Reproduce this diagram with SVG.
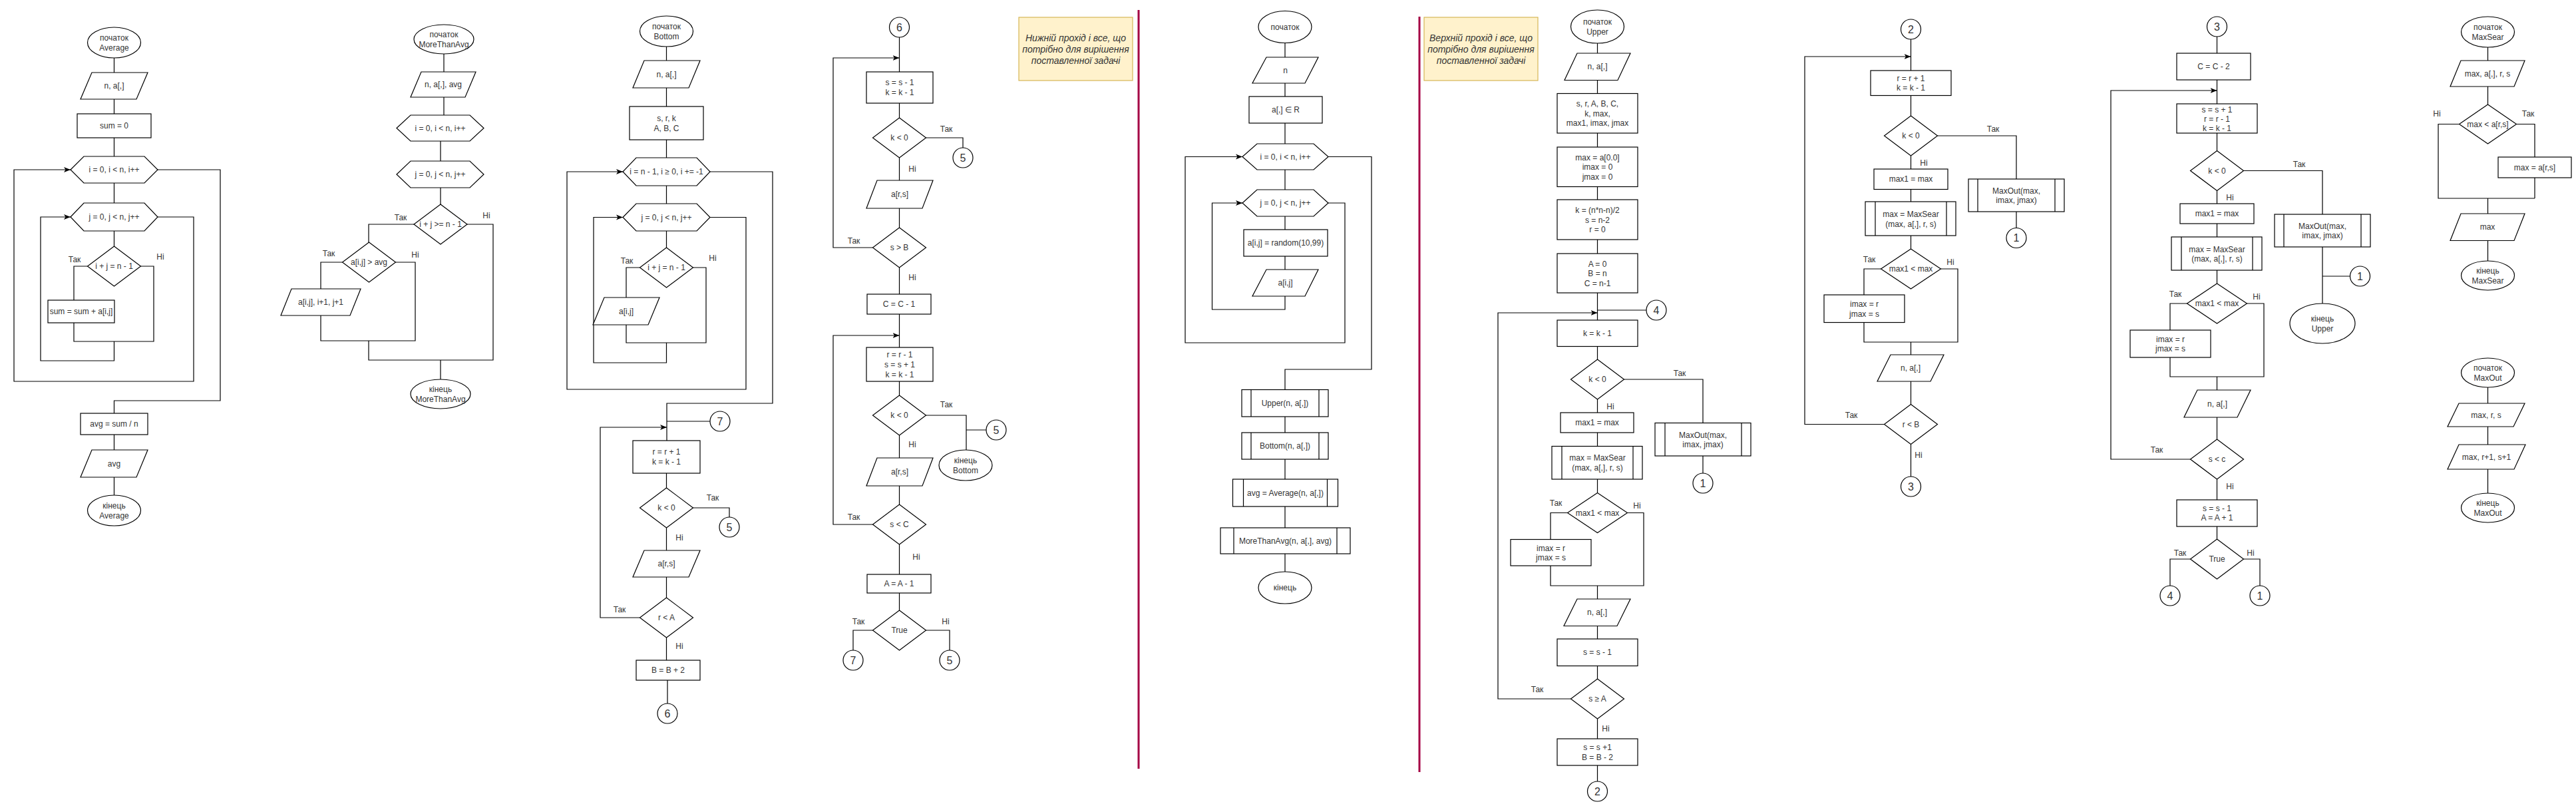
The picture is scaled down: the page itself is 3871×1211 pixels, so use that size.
<svg xmlns="http://www.w3.org/2000/svg" width="3871" height="1211" viewBox="0 0 3871 1211">
<style>
.s{fill:#fff;stroke:#000;stroke-width:1.2}
.c{fill:none;stroke:#000;stroke-width:1.2}
.a{marker-end:url(#ar)}
.t{font-family:"Liberation Sans",Arial,sans-serif;font-size:12px;fill:#333;text-anchor:middle;dominant-baseline:central}
.n{font-size:16px}
.note{fill:#fff2cc;stroke:#d6b656;stroke-width:1.2}
.nt{font-style:italic;font-size:14px}
.red{stroke:#a50044;stroke-width:3}
</style>
<defs>
<marker id="ar" viewBox="0 0 10 10" refX="10" refY="5" markerWidth="10" markerHeight="10" markerUnits="userSpaceOnUse" orient="auto"><path d="M0,1 L10,5 L0,9 L2.5,5 z" fill="#000"/></marker>
</defs>
<rect width="3871" height="1211" fill="#fff"/>

<g id="separators">
<line class="red" x1="1711" y1="15" x2="1711" y2="1155"/>
<line class="red" x1="2133" y1="25" x2="2133" y2="1160"/>
</g>

<g id="connectors">
<!-- Average -->
<path class="c" d="M171.5,87V109M171.5,149V171M171.5,207V235M171.5,275V305M171.5,347V370"/>
<path class="c" d="M131.5,400H111V451"/>
<path class="c" d="M111,485V513H231V400H211.5"/>
<path class="c a" d="M171.5,513V542H61V326H106"/>
<path class="c a" d="M237,326H291V573H21V255H106"/>
<path class="c" d="M237,255H331V602H171.5V621M171.5,653V676M171.5,717V744"/>
<text class="t" x="112" y="390">Так</text><text class="t" x="241" y="386">Ні</text>
<!-- MoreThanAvg -->
<path class="c" d="M667,81V108M667,146V173M662,212V242M662,282V307"/>
<path class="c" d="M622,337H554V364M514.5,394H482V434"/>
<path class="c" d="M482,474V512H624V394H594.5M554,512V541H741V337H702M662,541V570"/>
<text class="t" x="602" y="327">Так</text><text class="t" x="731" y="324">Ні</text>
<text class="t" x="494" y="381">Так</text><text class="t" x="624" y="383">Ні</text>
<!-- Bottom -->
<path class="c" d="M1001.5,70V91M1001.5,132V160M1001.5,210V237M1001.5,279V306M1001.5,347V372"/>
<path class="c" d="M961.5,402H941V447M941,488V515H1061V402H1041.5"/>
<path class="c a" d="M1001.5,515V545H892V326.5H936"/>
<path class="c a" d="M1067,326.5H1121V585H852V258H936"/>
<path class="c" d="M1067,258H1161V606H1002V662M1002,633H1067"/>
<path class="c a" d="M961.5,928H902V642H1002"/>
<path class="c" d="M1001.5,711V733M1041.5,763H1096V777M1001.5,793V827M1001.5,867V898M1001.5,958V992M1003,1022V1057"/>
<text class="t" x="942" y="392">Так</text><text class="t" x="1071" y="388">Ні</text>
<text class="t" x="1071" y="748">Так</text><text class="t" x="1021" y="808">Ні</text>
<text class="t" x="931" y="916">Так</text><text class="t" x="1021" y="971">Ні</text>
<!-- Bottom continued -->
<path class="c" d="M1351.5,56V108M1351.5,155V177M1391.5,207H1447V222M1351.5,237V271M1351.5,313V342M1351.5,402V442M1351.5,472V522M1351.5,573V594"/>
<path class="c a" d="M1311.5,372H1252V87H1351.5"/>
<path class="c a" d="M1311.5,788H1252V504H1351.5"/>
<path class="c" d="M1391.5,624H1452V676M1452,646H1482M1351.5,654V688M1351.5,730V758M1351.5,818V863M1351.5,891V917"/>
<path class="c" d="M1311.5,947H1282V977M1391.5,947H1427V977"/>
<text class="t" x="1422" y="194">Так</text><text class="t" x="1371" y="254">Ні</text>
<text class="t" x="1283" y="362">Так</text><text class="t" x="1371" y="417">Ні</text>
<text class="t" x="1422" y="608">Так</text><text class="t" x="1371" y="668">Ні</text>
<text class="t" x="1283" y="777">Так</text><text class="t" x="1377" y="837">Ні</text>
<text class="t" x="1290" y="934">Так</text><text class="t" x="1421" y="934">Ні</text>
<!-- Main -->
<path class="c" d="M1931,64.5V86M1931,125V145M1931,185V216M1931,255V285M1931,325V345M1931,385V405"/>
<path class="c a" d="M1931,445V465H1821.5V305H1867"/>
<path class="c a" d="M1996,305H2021V515H1781V235.5H1867"/>
<path class="c" d="M1996,235.5H2061V555H1931V585.5M1931,626V650M1931,690V720M1931,761V793M1931,832V859"/>
<!-- Upper -->
<path class="c" d="M2400.5,65V80M2400.5,120.5V140.5M2400.5,200V221M2400.5,280.5V300M2400.5,360V381M2400.5,440V481M2400.5,466H2474"/>
<path class="c a" d="M2360.5,1050H2251V470H2400.5"/>
<path class="c" d="M2400.5,520.5V540M2440.5,570H2559V635.5M2559,685V711M2400.5,600V620M2400.5,650V670.5M2400.5,720V740.5"/>
<path class="c" d="M2355.5,770.5H2330V810.5M2330,850V880H2470V770.5H2445.5M2400.5,880V900M2400.5,940.5V960M2400.5,1000.5V1020M2400.5,1080V1110M2400.5,1150V1174"/>
<text class="t" x="2524" y="561">Так</text><text class="t" x="2420" y="611">Ні</text>
<text class="t" x="2338" y="756">Так</text><text class="t" x="2460" y="760">Ні</text>
<text class="t" x="2310" y="1036">Так</text><text class="t" x="2413" y="1095">Ні</text>
<!-- Column 2 -->
<path class="c" d="M2871.5,59V106M2871.5,143.5V174M2911.5,204H3030V269M3030,318V342M2871.5,234V254M2871.5,284.5V303M2871.5,354V374"/>
<path class="c a" d="M2831.5,637.5H2712V85H2871.5"/>
<path class="c" d="M2826.5,404H2801V443M2801,484.5V514H2942V404H2916.5M2871.5,514V533M2871.5,573V607.5M2871.5,667.5V716"/>
<text class="t" x="2995" y="194">Так</text><text class="t" x="2891" y="245">Ні</text>
<text class="t" x="2809" y="390">Так</text><text class="t" x="2931" y="394">Ні</text>
<text class="t" x="2782" y="624">Так</text><text class="t" x="2883" y="684">Ні</text>
<!-- Column 3 -->
<path class="c" d="M3331.5,55V80M3331.5,120V156M3331.5,200V226.5M3371.5,256.5H3490V322M3490,371V456M3490,415H3531.5M3331.5,286.5V306M3331.5,336V356M3331.5,406V426"/>
<path class="c a" d="M3291.5,690H3172V136H3331.5"/>
<path class="c" d="M3286.5,456H3261V496M3261,537V566H3402V456H3376.5M3331.5,566V586M3331.5,627V660M3331.5,720V751M3331.5,791V810"/>
<path class="c" d="M3291.5,840H3261V880M3371.5,840H3396V880"/>
<text class="t" x="3455" y="247">Так</text><text class="t" x="3351" y="297">Ні</text>
<text class="t" x="3269" y="442">Так</text><text class="t" x="3391" y="446">Ні</text>
<text class="t" x="3241" y="676">Так</text><text class="t" x="3351" y="731">Ні</text>
<text class="t" x="3276" y="831">Так</text><text class="t" x="3382" y="831">Ні</text>
<!-- MaxSear -->
<path class="c" d="M3738.5,71V91M3738.5,130V157M3695.5,186.5H3664V298H3809M3781.5,186.5H3809V236M3809,267V298M3738.5,298V321M3738.5,361.5V392"/>
<text class="t" x="3662" y="171">Ні</text><text class="t" x="3799" y="171">Так</text>
<!-- MaxOut -->
<path class="c" d="M3738.5,582V606M3738.5,641V668M3738.5,705V741"/>
</g>

<!-- ===== Average ===== -->
<g id="avg-start"><ellipse class="s" cx="171.5" cy="64" rx="40" ry="23"/><text class="t" x="171.5" y="57">початок</text><text class="t" x="171.5" y="72">Average</text></g>
<g id="avg-in"><polygon class="s" points="138,109 222,109 205,149 121,149"/><text class="t" x="171.5" y="129">n, a[,]</text></g>
<g id="avg-sum0"><rect class="s" x="116" y="171" width="111" height="36"/><text class="t" x="171.5" y="189">sum = 0</text></g>
<g id="avg-loopi"><polygon class="s" points="106,255 126,235 217,235 237,255 217,275 126,275"/><text class="t" x="171.5" y="255">i = 0, i &lt; n, i++</text></g>
<g id="avg-loopj"><polygon class="s" points="106,326 126,305 217,305 237,326 217,347 126,347"/><text class="t" x="171.5" y="326">j = 0, j &lt; n, j++</text></g>
<g id="avg-cond"><polygon class="s" points="171.5,370 211.5,400 171.5,430 131.5,400"/><text class="t" x="171.5" y="400">i + j = n - 1</text></g>
<g id="avg-add"><rect class="s" x="72" y="451" width="100" height="34"/><text class="t" x="122" y="468">sum = sum + a[i,j]</text></g>
<g id="avg-div"><rect class="s" x="121" y="621" width="101" height="32"/><text class="t" x="171.5" y="637">avg = sum / n</text></g>
<g id="avg-out"><polygon class="s" points="138,676 222,676 205,717 121,717"/><text class="t" x="171.5" y="696.5">avg</text></g>
<g id="avg-end"><ellipse class="s" cx="171.5" cy="767" rx="40" ry="23"/><text class="t" x="171.5" y="760">кінець</text><text class="t" x="171.5" y="775">Average</text></g>

<!-- ===== MoreThanAvg ===== -->
<g id="mta-start"><ellipse class="s" cx="667" cy="59" rx="45" ry="22"/><text class="t" x="667" y="52">початок</text><text class="t" x="667" y="67">MoreThanAvg</text></g>
<g id="mta-in"><polygon class="s" points="633,108 715,108 699,146 617,146"/><text class="t" x="666" y="127">n, a[,], avg</text></g>
<g id="mta-loopi"><polygon class="s" points="596,192.5 617,173 706,173 727,192.5 706,212 617,212"/><text class="t" x="661.5" y="192.5">i = 0, i &lt; n, i++</text></g>
<g id="mta-loopj"><polygon class="s" points="596,262 617,242 706,242 727,262 706,282 617,282"/><text class="t" x="661.5" y="262">j = 0, j &lt; n, j++</text></g>
<g id="mta-cond1"><polygon class="s" points="662,307 702,337 662,367 622,337"/><text class="t" x="662" y="337">i + j &gt;= n - 1</text></g>
<g id="mta-cond2"><polygon class="s" points="554.5,364 594.5,394 554.5,424 514.5,394"/><text class="t" x="554.5" y="394">a[i,j] &gt; avg</text></g>
<g id="mta-out"><polygon class="s" points="438,434 542,434 526,474 422,474"/><text class="t" x="482" y="454">a[i,j], i+1, j+1</text></g>
<g id="mta-end"><ellipse class="s" cx="662" cy="592" rx="45" ry="22"/><text class="t" x="662" y="585">кінець</text><text class="t" x="662" y="600">MoreThanAvg</text></g>

<!-- ===== Bottom ===== -->
<g id="bot-start"><ellipse class="s" cx="1001.5" cy="47" rx="40" ry="23"/><text class="t" x="1001.5" y="40">початок</text><text class="t" x="1001.5" y="55">Bottom</text></g>
<g id="bot-in"><polygon class="s" points="968,91 1052,91 1035,132 951,132"/><text class="t" x="1001.5" y="111.5">n, a[,]</text></g>
<g id="bot-vars"><rect class="s" x="946" y="160" width="111" height="50"/><text class="t" x="1001.5" y="177.5">s, r, k</text><text class="t" x="1001.5" y="192.5">A, B, C</text></g>
<g id="bot-loopi"><polygon class="s" points="936,258 956,237 1047,237 1067,258 1047,279 956,279"/><text class="t" x="1001.5" y="258">i = n - 1, i ≥ 0, i += -1</text></g>
<g id="bot-loopj"><polygon class="s" points="936,326.5 956,306 1047,306 1067,326.5 1047,347 956,347"/><text class="t" x="1001.5" y="326.5">j = 0, j &lt; n, j++</text></g>
<g id="bot-cond"><polygon class="s" points="1001.5,372 1041.5,402 1001.5,432 961.5,402"/><text class="t" x="1001.5" y="402">i + j = n - 1</text></g>
<g id="bot-out1"><polygon class="s" points="908,447 991,447 974,488 891,488"/><text class="t" x="941" y="467.5">a[i,j]</text></g>
<g id="bot-c7a"><circle class="s" cx="1082" cy="633" r="15"/><text class="t n" x="1082" y="633">7</text></g>
<g id="bot-rk"><rect class="s" x="951" y="662" width="101" height="49"/><text class="t" x="1001.5" y="679">r = r + 1</text><text class="t" x="1001.5" y="694">k = k - 1</text></g>
<g id="bot-k0a"><polygon class="s" points="1001.5,733 1041.5,763 1001.5,793 961.5,763"/><text class="t" x="1001.5" y="763">k &lt; 0</text></g>
<g id="bot-c5a"><circle class="s" cx="1096" cy="792" r="15"/><text class="t n" x="1096" y="792">5</text></g>
<g id="bot-out2"><polygon class="s" points="968,827 1052,827 1035,867 951,867"/><text class="t" x="1001.5" y="847">a[r,s]</text></g>
<g id="bot-rA"><polygon class="s" points="1001.5,898 1041.5,928 1001.5,958 961.5,928"/><text class="t" x="1001.5" y="928">r &lt; A</text></g>
<g id="bot-B"><rect class="s" x="956" y="992" width="96" height="30"/><text class="t" x="1004" y="1007">B = B + 2</text></g>
<g id="bot-c6a"><circle class="s" cx="1003" cy="1072" r="15"/><text class="t n" x="1003" y="1072">6</text></g>

<!-- ===== Bottom continued ===== -->
<g id="bc-c6"><circle class="s" cx="1351.5" cy="41" r="15"/><text class="t n" x="1351.5" y="41">6</text></g>
<g id="bc-sk"><rect class="s" x="1302" y="108" width="100" height="47"/><text class="t" x="1352" y="124">s = s - 1</text><text class="t" x="1352" y="139">k = k - 1</text></g>
<g id="bc-k0a"><polygon class="s" points="1351.5,177 1391.5,207 1351.5,237 1311.5,207"/><text class="t" x="1351.5" y="207">k &lt; 0</text></g>
<g id="bc-c5a"><circle class="s" cx="1447" cy="237" r="15"/><text class="t n" x="1447" y="237">5</text></g>
<g id="bc-out1"><polygon class="s" points="1318,271 1402,271 1386,313 1302,313"/><text class="t" x="1352" y="292">a[r,s]</text></g>
<g id="bc-sB"><polygon class="s" points="1351.5,342 1391.5,372 1351.5,402 1311.5,372"/><text class="t" x="1351.5" y="372">s &gt; B</text></g>
<g id="bc-C"><rect class="s" x="1303" y="442" width="96" height="30"/><text class="t" x="1351" y="457">C = C - 1</text></g>
<g id="bc-rsk"><rect class="s" x="1302" y="522" width="100" height="51"/><text class="t" x="1352" y="532.5">r = r - 1</text><text class="t" x="1352" y="547.5">s = s + 1</text><text class="t" x="1352" y="562.5">k = k - 1</text></g>
<g id="bc-k0b"><polygon class="s" points="1351.5,594 1391.5,624 1351.5,654 1311.5,624"/><text class="t" x="1351.5" y="624">k &lt; 0</text></g>
<g id="bc-c5b"><circle class="s" cx="1497" cy="646" r="15"/><text class="t n" x="1497" y="646">5</text></g>
<g id="bc-end"><ellipse class="s" cx="1451" cy="699" rx="40" ry="23"/><text class="t" x="1451" y="692">кінець</text><text class="t" x="1451" y="707">Bottom</text></g>
<g id="bc-out2"><polygon class="s" points="1318,688 1402,688 1386,730 1302,730"/><text class="t" x="1352" y="709">a[r,s]</text></g>
<g id="bc-sC"><polygon class="s" points="1351.5,758 1391.5,788 1351.5,818 1311.5,788"/><text class="t" x="1351.5" y="788">s &lt; C</text></g>
<g id="bc-A"><rect class="s" x="1303" y="863" width="96" height="28"/><text class="t" x="1351" y="877">A = A - 1</text></g>
<g id="bc-true"><polygon class="s" points="1351.5,917 1391.5,947 1351.5,977 1311.5,947"/><text class="t" x="1351.5" y="947">True</text></g>
<g id="bc-c7"><circle class="s" cx="1282" cy="992" r="15"/><text class="t n" x="1282" y="992">7</text></g>
<g id="bc-c5c"><circle class="s" cx="1427" cy="992" r="15"/><text class="t n" x="1427" y="992">5</text></g>

<!-- ===== Notes ===== -->
<g id="note1"><rect class="note" x="1531" y="26" width="171" height="95"/><text class="t nt" x="1616.5" y="57">Нижній прохід і все, що</text><text class="t nt" x="1616.5" y="74">потрібно для вирішення</text><text class="t nt" x="1616.5" y="91">поставленної задачі</text></g>
<g id="note2"><rect class="note" x="2140" y="26" width="171" height="95"/><text class="t nt" x="2225.5" y="57">Верхній прохід і все, що</text><text class="t nt" x="2225.5" y="74">потрібно для вирішення</text><text class="t nt" x="2225.5" y="91">поставленної задачі</text></g>

<!-- ===== Main ===== -->
<g id="main-start"><ellipse class="s" cx="1931" cy="40.5" rx="40" ry="24"/><text class="t" x="1931" y="40.5">початок</text></g>
<g id="main-n"><polygon class="s" points="1903,86 1981,86 1961,125 1882,125"/><text class="t" x="1931.5" y="105.5">n</text></g>
<g id="main-aR"><rect class="s" x="1877" y="145" width="110" height="40"/><text class="t" x="1932" y="165">a[,] ∈ R</text></g>
<g id="main-loopi"><polygon class="s" points="1867,235.5 1889,216 1974,216 1996,235.5 1974,255 1889,255"/><text class="t" x="1931.5" y="235.5">i = 0, i &lt; n, i++</text></g>
<g id="main-loopj"><polygon class="s" points="1867,305 1889,285 1974,285 1996,305 1974,325 1889,325"/><text class="t" x="1931.5" y="305">j = 0, j &lt; n, j++</text></g>
<g id="main-rand"><rect class="s" x="1869" y="345" width="126" height="40"/><text class="t" x="1932" y="365">a[i,j] = random(10,99)</text></g>
<g id="main-out"><polygon class="s" points="1903,405 1981,405 1961,445 1882,445"/><text class="t" x="1931.5" y="425">a[i,j]</text></g>
<g id="main-upper"><rect class="s" x="1866" y="585.5" width="130" height="40.5"/><path class="c" d="M1880,585.5V626M1982,585.5V626"/><text class="t" x="1931" y="606">Upper(n, a[,])</text></g>
<g id="main-bottom"><rect class="s" x="1866" y="650" width="130" height="40"/><path class="c" d="M1880,650V690M1982,650V690"/><text class="t" x="1931" y="670">Bottom(n, a[,])</text></g>
<g id="main-average"><rect class="s" x="1852.5" y="720" width="158" height="41"/><path class="c" d="M1868.5,720V761M1994.5,720V761"/><text class="t" x="1931.5" y="740.5">avg = Average(n, a[,])</text></g>
<g id="main-mta"><rect class="s" x="1834" y="793" width="195" height="39"/><path class="c" d="M1854,793V832M2009,793V832"/><text class="t" x="1931.5" y="812.5">MoreThanAvg(n, a[,], avg)</text></g>
<g id="main-end"><ellipse class="s" cx="1931" cy="883" rx="40" ry="24"/><text class="t" x="1931" y="883">кінець</text></g>

<!-- ===== Upper ===== -->
<g id="up-start"><ellipse class="s" cx="2400.5" cy="40" rx="40" ry="25"/><text class="t" x="2400.5" y="33">початок</text><text class="t" x="2400.5" y="48">Upper</text></g>
<g id="up-in"><polygon class="s" points="2370,80 2450,80 2431,120.5 2351,120.5"/><text class="t" x="2400.5" y="100">n, a[,]</text></g>
<g id="up-vars"><rect class="s" x="2340" y="140.5" width="121" height="59.5"/><text class="t" x="2400.5" y="156">s, r, A, B, C,</text><text class="t" x="2400.5" y="170.5">k, max,</text><text class="t" x="2400.5" y="185">max1, imax, jmax</text></g>
<g id="up-max"><rect class="s" x="2340" y="221" width="121" height="59.5"/><text class="t" x="2400.5" y="236.5">max = a[0.0]</text><text class="t" x="2400.5" y="251">imax = 0</text><text class="t" x="2400.5" y="265.5">jmax = 0</text></g>
<g id="up-k"><rect class="s" x="2340" y="300" width="121" height="60"/><text class="t" x="2400.5" y="316">k = (n*n-n)/2</text><text class="t" x="2400.5" y="330.5">s = n-2</text><text class="t" x="2400.5" y="345">r = 0</text></g>
<g id="up-abc"><rect class="s" x="2340" y="381" width="121" height="59"/><text class="t" x="2400.5" y="396.5">A = 0</text><text class="t" x="2400.5" y="411">B = n</text><text class="t" x="2400.5" y="425.5">C = n-1</text></g>
<g id="up-c4"><circle class="s" cx="2489" cy="466" r="15"/><text class="t n" x="2489" y="466">4</text></g>
<g id="up-kdec"><rect class="s" x="2340" y="481" width="121" height="39.5"/><text class="t" x="2400.5" y="501">k = k - 1</text></g>
<g id="up-k0"><polygon class="s" points="2400.5,540 2440.5,570 2400.5,600 2360.5,570"/><text class="t" x="2400.5" y="570">k &lt; 0</text></g>
<g id="up-maxout"><rect class="s" x="2487" y="635.5" width="144" height="49.5"/><path class="c" d="M2502,635.5V685M2617,635.5V685"/><text class="t" x="2559" y="653.5">MaxOut(max,</text><text class="t" x="2559" y="668">imax, jmax)</text></g>
<g id="up-c1"><circle class="s" cx="2559" cy="726" r="15"/><text class="t n" x="2559" y="726">1</text></g>
<g id="up-max1"><rect class="s" x="2345" y="620" width="110" height="30"/><text class="t" x="2400" y="635">max1 = max</text></g>
<g id="up-sear"><rect class="s" x="2332" y="670.5" width="136" height="49.5"/><path class="c" d="M2347,670.5V720M2454,670.5V720"/><text class="t" x="2400.5" y="688">max = MaxSear</text><text class="t" x="2400.5" y="702.5">(max, a[,], r, s)</text></g>
<g id="up-cmp"><polygon class="s" points="2400.5,740.5 2445.5,770.5 2400.5,800.5 2355.5,770.5"/><text class="t" x="2400.5" y="770.5">max1 &lt; max</text></g>
<g id="up-imax"><rect class="s" x="2270" y="810.5" width="121" height="39.5"/><text class="t" x="2330.5" y="823.5">imax = r</text><text class="t" x="2330.5" y="837.5">jmax = s</text></g>
<g id="up-out"><polygon class="s" points="2370,900 2450,900 2430,940.5 2350,940.5"/><text class="t" x="2400" y="920">n, a[,]</text></g>
<g id="up-sdec"><rect class="s" x="2340" y="960" width="121" height="40.5"/><text class="t" x="2400.5" y="980">s = s - 1</text></g>
<g id="up-sA"><polygon class="s" points="2400.5,1020 2440.5,1050 2400.5,1080 2360.5,1050"/><text class="t" x="2400.5" y="1050">s ≥ A</text></g>
<g id="up-sB"><rect class="s" x="2340" y="1110" width="121" height="40"/><text class="t" x="2400.5" y="1123">s = s +1</text><text class="t" x="2400.5" y="1137.5">B = B - 2</text></g>
<g id="up-c2"><circle class="s" cx="2400.5" cy="1189" r="15"/><text class="t n" x="2400.5" y="1189">2</text></g>

<!-- ===== Column 2 ===== -->
<g id="c2-c2"><circle class="s" cx="2871.5" cy="44" r="15"/><text class="t n" x="2871.5" y="44">2</text></g>
<g id="c2-rk"><rect class="s" x="2811" y="106" width="121" height="37.5"/><text class="t" x="2871.5" y="117.5">r = r + 1</text><text class="t" x="2871.5" y="131.5">k = k - 1</text></g>
<g id="c2-k0"><polygon class="s" points="2871.5,174 2911.5,204 2871.5,234 2831.5,204"/><text class="t" x="2871.5" y="204">k &lt; 0</text></g>
<g id="c2-maxout"><rect class="s" x="2958" y="269" width="144" height="49"/><path class="c" d="M2972,269V318M3088,269V318"/><text class="t" x="3030" y="286.5">MaxOut(max,</text><text class="t" x="3030" y="301">imax, jmax)</text></g>
<g id="c2-c1"><circle class="s" cx="3030" cy="357.5" r="15"/><text class="t n" x="3030" y="357.5">1</text></g>
<g id="c2-max1"><rect class="s" x="2816" y="254" width="111" height="30.5"/><text class="t" x="2871.5" y="269">max1 = max</text></g>
<g id="c2-sear"><rect class="s" x="2803" y="303" width="136" height="51"/><path class="c" d="M2818,303V354M2925,303V354"/><text class="t" x="2871.5" y="322">max = MaxSear</text><text class="t" x="2871.5" y="336.5">(max, a[,], r, s)</text></g>
<g id="c2-cmp"><polygon class="s" points="2871.5,374 2916.5,404 2871.5,434 2826.5,404"/><text class="t" x="2871.5" y="404">max1 &lt; max</text></g>
<g id="c2-imax"><rect class="s" x="2741" y="443" width="121" height="41.5"/><text class="t" x="2801.5" y="457">imax = r</text><text class="t" x="2801.5" y="471.5">jmax = s</text></g>
<g id="c2-out"><polygon class="s" points="2841,533 2921,533 2901,573 2821,573"/><text class="t" x="2871" y="553">n, a[,]</text></g>
<g id="c2-rB"><polygon class="s" points="2871.5,607.5 2911.5,637.5 2871.5,667.5 2831.5,637.5"/><text class="t" x="2871.5" y="637.5">r &lt; B</text></g>
<g id="c2-c3"><circle class="s" cx="2871.5" cy="731" r="15"/><text class="t n" x="2871.5" y="731">3</text></g>

<!-- ===== Column 3 ===== -->
<g id="c3-c3"><circle class="s" cx="3331.5" cy="40" r="15"/><text class="t n" x="3331.5" y="40">3</text></g>
<g id="c3-C"><rect class="s" x="3271" y="80" width="111" height="40"/><text class="t" x="3326.5" y="100">C = C - 2</text></g>
<g id="c3-srk"><rect class="s" x="3271" y="156" width="121" height="44"/><text class="t" x="3331.5" y="164.5">s = s + 1</text><text class="t" x="3331.5" y="178.5">r = r - 1</text><text class="t" x="3331.5" y="192.5">k = k - 1</text></g>
<g id="c3-k0"><polygon class="s" points="3331.5,226.5 3371.5,256.5 3331.5,286.5 3291.5,256.5"/><text class="t" x="3331.5" y="256.5">k &lt; 0</text></g>
<g id="c3-maxout"><rect class="s" x="3418" y="322" width="144" height="49"/><path class="c" d="M3432,322V371M3548,322V371"/><text class="t" x="3490" y="340">MaxOut(max,</text><text class="t" x="3490" y="354">imax, jmax)</text></g>
<g id="c3-c1a"><circle class="s" cx="3546.5" cy="415" r="15"/><text class="t n" x="3546.5" y="415">1</text></g>
<g id="c3-end"><ellipse class="s" cx="3490" cy="486" rx="49" ry="30"/><text class="t" x="3490" y="479">кінець</text><text class="t" x="3490" y="494">Upper</text></g>
<g id="c3-max1"><rect class="s" x="3276" y="306" width="111" height="30"/><text class="t" x="3331.5" y="321">max1 = max</text></g>
<g id="c3-sear"><rect class="s" x="3263" y="356" width="136" height="50"/><path class="c" d="M3278,356V406M3385,356V406"/><text class="t" x="3331.5" y="374.5">max = MaxSear</text><text class="t" x="3331.5" y="389">(max, a[,], r, s)</text></g>
<g id="c3-cmp"><polygon class="s" points="3331.5,426 3376.5,456 3331.5,486 3286.5,456"/><text class="t" x="3331.5" y="456">max1 &lt; max</text></g>
<g id="c3-imax"><rect class="s" x="3201" y="496" width="121" height="41"/><text class="t" x="3261.5" y="509.5">imax = r</text><text class="t" x="3261.5" y="523.5">jmax = s</text></g>
<g id="c3-out"><polygon class="s" points="3302,586 3382,586 3362,627 3282,627"/><text class="t" x="3332" y="606.5">n, a[,]</text></g>
<g id="c3-sc"><polygon class="s" points="3331.5,660 3371.5,690 3331.5,720 3291.5,690"/><text class="t" x="3331.5" y="690">s &lt; c</text></g>
<g id="c3-sA"><rect class="s" x="3271" y="751" width="121" height="40"/><text class="t" x="3331.5" y="764">s = s - 1</text><text class="t" x="3331.5" y="778">A = A + 1</text></g>
<g id="c3-true"><polygon class="s" points="3331.5,810 3371.5,840 3331.5,870 3291.5,840"/><text class="t" x="3331.5" y="840">True</text></g>
<g id="c3-c4"><circle class="s" cx="3261" cy="895" r="15"/><text class="t n" x="3261" y="895">4</text></g>
<g id="c3-c1b"><circle class="s" cx="3396" cy="895" r="15"/><text class="t n" x="3396" y="895">1</text></g>

<!-- ===== MaxSear ===== -->
<g id="ms-start"><ellipse class="s" cx="3738.5" cy="48" rx="40" ry="23"/><text class="t" x="3738.5" y="41">початок</text><text class="t" x="3738.5" y="56">MaxSear</text></g>
<g id="ms-in"><polygon class="s" points="3698,91 3794,91 3778,130 3682,130"/><text class="t" x="3738" y="110.5">max, a[,], r, s</text></g>
<g id="ms-cmp"><polygon class="s" points="3738.5,157 3781.5,186.5 3738.5,216 3695.5,186.5"/><text class="t" x="3738.5" y="186.5">max &lt; a[r,s]</text></g>
<g id="ms-set"><rect class="s" x="3754" y="236" width="110" height="31"/><text class="t" x="3809" y="251.5">max = a[r,s]</text></g>
<g id="ms-out"><polygon class="s" points="3698,321 3794,321 3778,361.5 3682,361.5"/><text class="t" x="3738" y="341">max</text></g>
<g id="ms-end"><ellipse class="s" cx="3738.5" cy="414" rx="40" ry="22"/><text class="t" x="3738.5" y="407">кінець</text><text class="t" x="3738.5" y="422">MaxSear</text></g>

<!-- ===== MaxOut ===== -->
<g id="mo-start"><ellipse class="s" cx="3738.5" cy="560" rx="40" ry="22"/><text class="t" x="3738.5" y="553">початок</text><text class="t" x="3738.5" y="568">MaxOut</text></g>
<g id="mo-in"><polygon class="s" points="3695,606 3794,606 3777,641 3678,641"/><text class="t" x="3736" y="623.5">max, r, s</text></g>
<g id="mo-out"><polygon class="s" points="3695,668 3795,668 3778,705 3678,705"/><text class="t" x="3736.5" y="686.5">max, r+1, s+1</text></g>
<g id="mo-end"><ellipse class="s" cx="3738.5" cy="763" rx="40" ry="22"/><text class="t" x="3738.5" y="756">кінець</text><text class="t" x="3738.5" y="771">MaxOut</text></g>
</svg>
